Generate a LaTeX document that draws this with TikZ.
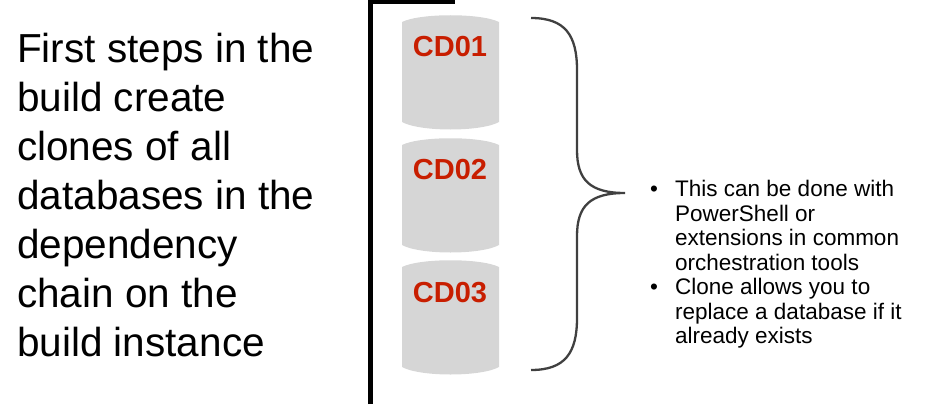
\documentclass[tikz,border=0pt]{standalone}
\usepackage{fontspec}
\setmainfont{Liberation Sans}
\definecolor{dbgray}{HTML}{D6D6D6}
\definecolor{dbred}{HTML}{C81E00}
\definecolor{bracegray}{HTML}{404040}
\tikzset{
  db/.style={fill=dbgray,draw=none},
  dblabel/.style={text=dbred,font=\fontsize{29}{32}\selectfont\bfseries},
}
\newcommand{\bul}{\makebox[25pt][l]{\textbullet}}
\newcommand{\ind}{\hspace*{25pt}}
\begin{document}
\begin{tikzpicture}[x=1pt,y=-1pt]
		\useasboundingbox (0,0) rectangle (941,404);
		
		% text on the left
		\node[anchor=north west,align=left,inner sep=0pt,font=\fontsize{40.5}{49}\selectfont] (intro) at (17,33)
		{First steps in the\\build create\\clones of all\\databases in the\\dependency\\chain on the\\build instance};
		
		% black bar
		\draw[line width=5pt] (370,404) -- (370,1.5) -- (455,1.5);
		
		% databases
		\foreach \i/\t in {1/15,2/138,3/260}{
			\fill[db] (402,\t+7) .. controls (420,\t-2) and (481,\t-2) .. (499,\t+7)
			-- (499,\t+107) .. controls (481,\t+117) and (420,\t+117) .. (402,\t+107) -- cycle;
		}
		\node[dblabel] (cd1) at (450,47) {CD01};
		\node[dblabel] (cd2) at (450,170) {CD02};
		\node[dblabel] (cd3) at (450,293) {CD03};
		
		% brace
		\draw[bracegray,line width=2.3pt]
		(531,18) .. controls (565,18) and (577,35) .. (577,70) -- (577,150)
		.. controls (577,180) and (590,193) .. (625,193)
		.. controls (590,193) and (577,206) .. (577,236) -- (577,318)
		.. controls (577,353) and (565,370) .. (531,370);
		\coordinate (tip) at (625,193);
		
		% notes
		\node[anchor=north west,align=left,inner sep=0pt,font=\fontsize{22.5}{24.5}\selectfont] (notes) at (650,180)
		{\bul This can be done with\\
		 \ind PowerShell or\\
		 \ind extensions in common\\
		 \ind orchestration tools\\
		 \bul Clone allows you to\\
		 \ind replace a database if it\\
		 \ind already exists};
\end{tikzpicture}
\end{document}
